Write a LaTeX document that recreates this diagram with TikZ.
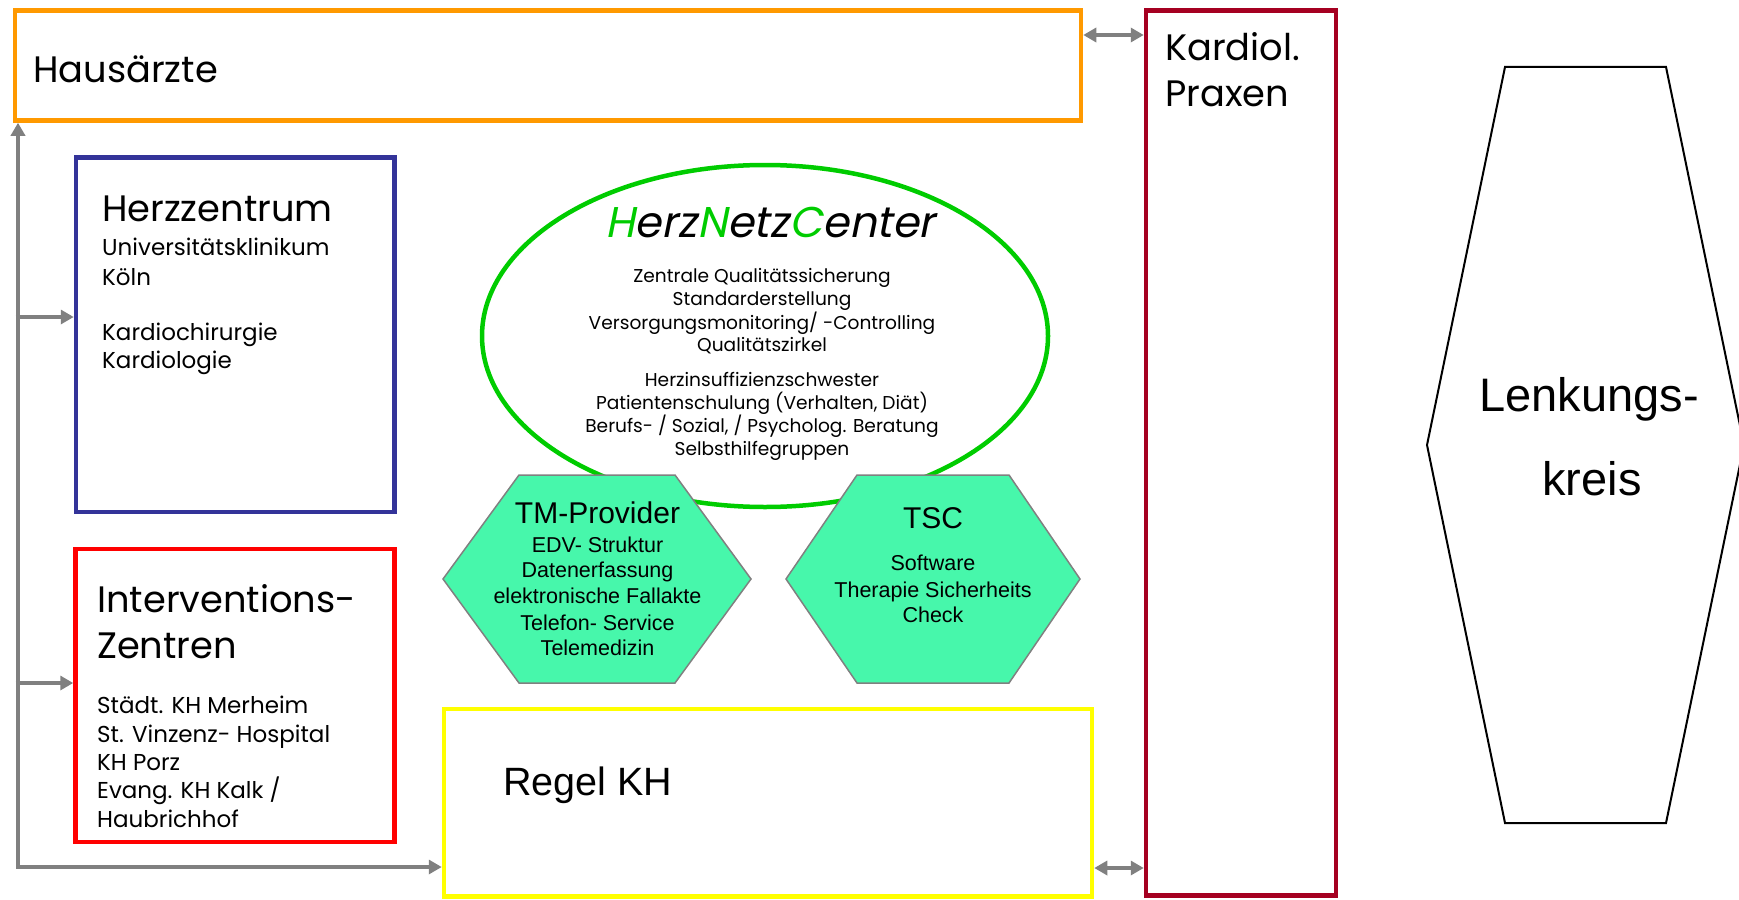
\documentclass[tikz,border=0pt]{standalone}
\usepackage{fontspec}
\setmainfont{Poppins}
\newfontfamily\arialf{Liberation Sans}
\newfontfamily\hncf[FakeSlant=0.2]{Poppins}
\usetikzlibrary{arrows.meta,shapes.geometric}
\definecolor{cOrange}{HTML}{FF9900}
\definecolor{cBlue}{HTML}{333399}
\definecolor{cRed}{HTML}{FF0000}
\definecolor{cYellow}{HTML}{FFFF00}
\definecolor{cDarkRed}{HTML}{A50021}
\definecolor{cGreen}{HTML}{00CC00}
\definecolor{cMint}{HTML}{47F7AB}
\definecolor{cGrey}{HTML}{808080}
\tikzset{
  box/.style={draw, line width=4.5pt, rectangle, inner sep=0pt},
  gline/.style={draw=cGrey, line width=4.5pt},
  ghead/.style={gline, -{Triangle[length=13pt,width=14pt]}},
  gboth/.style={gline, {Triangle[length=13pt,width=14pt]}-{Triangle[length=13pt,width=14pt]}},
  hexa/.style={draw=cGrey, line width=1.5pt, fill=cMint},
  big/.style={inner sep=0pt, anchor=base west, font=\fontsize{36.8}{44}\selectfont},
  small/.style={inner sep=0pt, anchor=base west, font=\fontsize{23}{28}\selectfont},
  ell/.style={inner sep=0pt, anchor=base, font=\fontsize{18.6}{23}\selectfont},
  ar/.style={inner sep=0pt, anchor=base, font=\arialf\fontsize{21.5}{26}\selectfont},
  artitle/.style={inner sep=0pt, anchor=base, font=\arialf\fontsize{30}{36}\selectfont},
}
\begin{document}
\begin{tikzpicture}[x=1pt,y=-1pt]
\useasboundingbox (0,0) rectangle (1739,899);
% boxes
\node[box, draw=cOrange, minimum width=1066pt, minimum height=110pt] (haus) at (548,65.5) {};
\node[box, draw=cDarkRed, minimum width=190pt, minimum height=885pt] (kard) at (1241,453) {};
\node[box, draw=cBlue, minimum width=318.5pt, minimum height=354.5pt] (herz) at (235.25,334.75) {};
\node[box, draw=cRed, minimum width=319pt, minimum height=293pt] (inter) at (235,695.5) {};
\node[box, draw=cYellow, minimum width=648pt, minimum height=187.5pt] (regel) at (768,802.75) {};
% ellipse
\node[draw=cGreen, line width=4.5pt, ellipse, minimum width=566pt, minimum height=342pt, inner sep=0pt] (hnc) at (765,336) {};
% hexagons
\coordinate (tm) at (597,579);
\draw[hexa] (443,579) -- (519,475) -- (675,475) -- (751,579) -- (675,683) -- (519,683) -- cycle;
\coordinate (tsc) at (933,579);
\draw[hexa] (786,579) -- (857,475) -- (1009,475) -- (1080,579) -- (1009,683) -- (857,683) -- cycle;
% Lenkungskreis
\coordinate (lk) at (1585.5,445);
\draw[line width=2pt, line join=miter] (1427,445) -- (1505,67) -- (1666,67) -- (1744,445) -- (1666,823) -- (1505,823) -- cycle;
% connectors
\coordinate (busB) at (18,867);
\coordinate (b1) at (15.5,317);
\coordinate (b2) at (15.5,683);
\draw[gboth, line join=miter] (busB |- haus.south) -- (busB) -- (busB -| regel.west);
\draw[ghead] (b1) -- (b1 -| herz.west);
\draw[ghead] (b2) -- (b2 -| inter.west);
\coordinate (t1) at (0,35);
\coordinate (t2) at (0,868);
\draw[gboth] (t1 -| haus.east) -- (t1 -| kard.west);
\draw[gboth] (t2 -| regel.east) -- (t2 -| kard.west);
% texts
\node[big] (thaus) at (33,82) {Hausärzte};
\node[big] (tkard1) at (1165,60) {Kardiol.};
\node[big] (tkard2) at (1165,106) {Praxen};
\node[big] (therz) at (102,221) {Herzzentrum};
\node[small] (therz1) at (102,255) {Universitätsklinikum};
\node[small] (therz2) at (102,285) {Köln};
\node[small] (therz3) at (102,340) {Kardiochirurgie};
\node[small] (therz4) at (102,368) {Kardiologie};
\node[big] (tint1) at (97,612) {Interventions-};
\node[big] (tint2) at (97,658) {Zentren};
\node[small] (tint3) at (97,713) {Städt. KH Merheim};
\node[small] (tint4) at (97,742) {St. Vinzenz- Hospital};
\node[small] (tint5) at (97,770) {KH Porz};
\node[small] (tint6) at (97,798) {Evang. KH Kalk /};
\node[small] (tint7) at (97,827) {Haubrichhof};
\node[inner sep=0pt, anchor=base, font=\hncf\fontsize{43}{50}\selectfont] (thnc) at (770,237) {\textcolor{cGreen}{H}erz\textcolor{cGreen}{N}etz\textcolor{cGreen}{C}enter};
\node[ell] (e1) at (762,282) {Zentrale Qualitätssicherung};
\node[ell] (e2) at (762,305) {Standarderstellung};
\node[ell] (e3) at (762,329) {Versorgungsmonitoring/ -Controlling};
\node[ell] (e4) at (762,351) {Qualitätszirkel};
\node[ell] (e5) at (762,386) {Herzinsuffizienzschwester};
\node[ell] (e6) at (762,409) {Patientenschulung (Verhalten, Diät)};
\node[ell] (e7) at (762,432) {Berufs- / Sozial, / Psycholog. Beratung};
\node[ell] (e8) at (762,455) {Selbsthilfegruppen};
\node[artitle] (ttm) at (597.5,523) {TM-Provider};
\node[ar] (tm1) at (597.5,552) {EDV- Struktur};
\node[ar] (tm2) at (597.5,577) {Datenerfassung};
\node[ar] (tm3) at (597.5,603) {elektronische Fallakte};
\node[ar] (tm4) at (597.5,630) {Telefon- Service};
\node[ar] (tm5) at (597.5,655) {Telemedizin};
\node[artitle] (ttsc) at (933,528) {TSC};
\node[ar] (ts1) at (933,570) {Software};
\node[ar] (ts2) at (933,597) {Therapie Sicherheits};
\node[ar] (ts3) at (933,622) {Check};
\node[inner sep=0pt, anchor=base west, font=\arialf\fontsize{39.5}{46}\selectfont] (treg) at (503,795) {Regel KH};
\node[inner sep=0pt, anchor=base, font=\arialf\fontsize{47}{56}\selectfont] (tlk1) at (1589,411) {Lenkungs-};
\node[inner sep=0pt, anchor=base, font=\arialf\fontsize{47}{56}\selectfont] (tlk2) at (1592,495) {kreis};
\end{tikzpicture}
\end{document}
